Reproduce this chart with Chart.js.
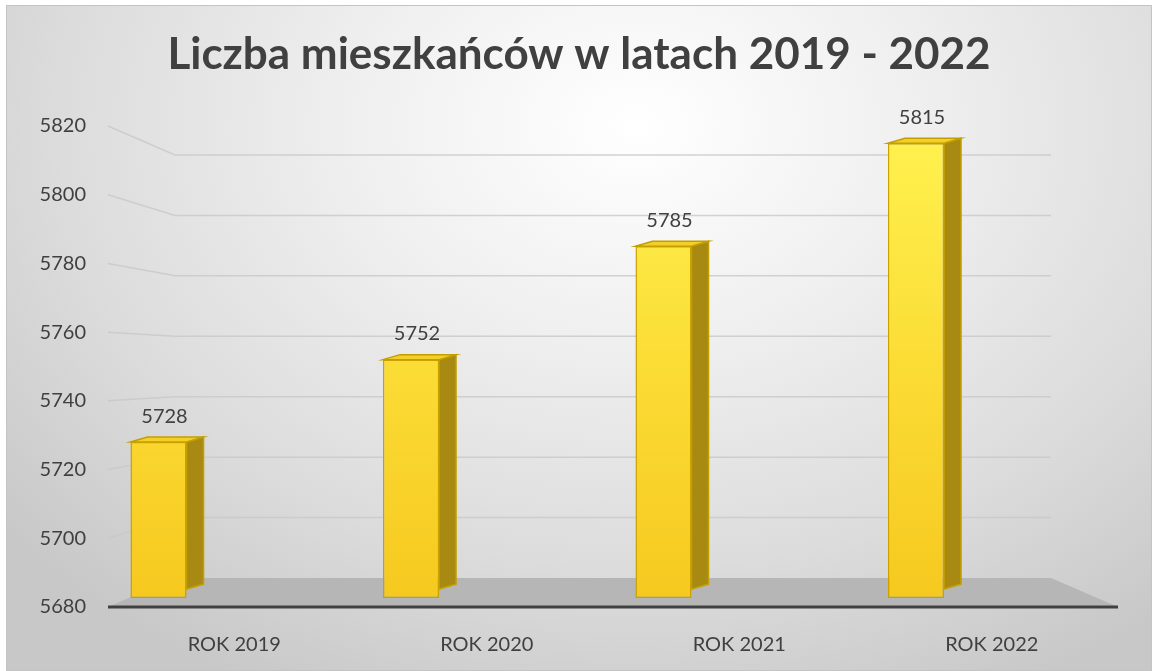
<!DOCTYPE html>
<html>
<head>
<meta charset="utf-8">
<script src="https://cdn.jsdelivr.net/npm/chart.js@4.4.1/dist/chart.umd.min.js"></script>
<style>
  html, body { margin: 0; padding: 0; background: #fff; }
  #box {
    position: absolute; left: 6px; top: 5px;
    width: 1146px; height: 666px; box-sizing: border-box;
    border: 1px solid #c4c4c4;
    background: radial-gradient(ellipse 72% 95% at 55% 18%, #ffffff 0%, #efefef 35%, #dcdcdc 70%, #c8c8c8 100%);
  }
  #myChart { display: block; }
</style>
</head>
<body>
<div id="box"><canvas id="myChart" width="1144" height="664"></canvas></div>
<script>
const years = ['ROK 2019', 'ROK 2020', 'ROK 2021', 'ROK 2022']
const residents = [5728, 5752, 5785, 5815]
const yMin = 5680
const yMax = 5820
const yStep = 20

const chart = document.getElementById("myChart")

// floor, slanted grid lines (3d look) and axis line
const backdrop = {
  id: 'backdrop',
  beforeDatasetsDraw(c) {
    const ctx = c.ctx, a = c.chartArea, y = c.scales.y
    const depthX = 67, depthY = 29
    const k = (a.bottom - a.top - 2 * depthY) / (a.bottom - a.top)
    ctx.save()
    // floor
    ctx.fillStyle = '#b6b6b6'
    ctx.beginPath()
    ctx.moveTo(a.left, a.bottom)
    ctx.lineTo(a.right, a.bottom)
    ctx.lineTo(a.right - depthX, a.bottom - depthY)
    ctx.lineTo(a.left + depthX, a.bottom - depthY)
    ctx.closePath()
    ctx.fill()
    // grid lines
    ctx.strokeStyle = 'rgba(200,200,200,0.8)'
    ctx.lineWidth = 1.5
    y.ticks.forEach(t => {
      if (t.value === yMin) return
      const fy = y.getPixelForValue(t.value)
      const by = a.bottom - depthY + (fy - a.bottom) * k
      ctx.beginPath()
      ctx.moveTo(a.left, fy)
      ctx.lineTo(a.left + depthX, by)
      ctx.lineTo(a.right - depthX, by)
      ctx.stroke()
    })
    ctx.restore()
  },
  afterDatasetsDraw(c) {
    const ctx = c.ctx, a = c.chartArea
    ctx.save()
    ctx.strokeStyle = '#404040'
    ctx.lineWidth = 3
    ctx.beginPath()
    ctx.moveTo(a.left, a.bottom)
    ctx.lineTo(a.right, a.bottom)
    ctx.stroke()
    // value labels
    ctx.fillStyle = '#404040'
    ctx.font = '20px Lato'
    ctx.textAlign = 'center'
    ctx.textBaseline = 'bottom'
    c.getDatasetMeta(0).data.forEach((bar, i) => {
      ctx.fillText(residents[i], bar.x + 6, bar.y - 16)
    })
    ctx.restore()
  }
}

// side and top faces of the bars
const barSides = {
  id: 'barSides',
  beforeDatasetDraw(c, args) {
    if (args.index !== 0) return
    const ctx = c.ctx, d = 17, dy = 5
    ctx.save()
    args.meta.data.forEach(bar => {
      const r = bar.x + bar.width / 2, l = bar.x - bar.width / 2
      const base = bar.base - 9
      ctx.fillStyle = '#a88a12'
      ctx.strokeStyle = '#c29f00'
      ctx.lineWidth = 1.5
      ctx.beginPath()
      ctx.moveTo(r, bar.y)
      ctx.lineTo(r + d, bar.y - dy)
      ctx.lineTo(r + d, base - dy)
      ctx.lineTo(r, base)
      ctx.closePath()
      ctx.fill(); ctx.stroke()
      ctx.fillStyle = '#f4cf2a'
      ctx.beginPath()
      ctx.moveTo(l, bar.y)
      ctx.lineTo(l + d, bar.y - dy)
      ctx.lineTo(r + d, bar.y - dy)
      ctx.lineTo(r, bar.y)
      ctx.closePath()
      ctx.fill(); ctx.stroke()
    })
    ctx.restore()
  }
}

const myData = {
  labels: years,
  datasets: [{
    label: 'Liczba mieszkańców',
    data: residents,
    base: yMin + 2.6,
    backgroundColor: (cx) => {
      const a = cx.chart.chartArea
      if (!a) return '#f9cf25'
      const g = cx.chart.ctx.createLinearGradient(0, a.top, 0, a.bottom)
      g.addColorStop(0, '#fff250')
      g.addColorStop(0.5, '#fbdc35')
      g.addColorStop(1, '#f6c81e')
      return g
    },
    borderColor: '#c9a200',
    borderWidth: 1.5,
    borderSkipped: false,
    barPercentage: 0.37,
    categoryPercentage: 1.2
  }, {
    label: '',
    data: [null, null, null, null],
    barPercentage: 0.37,
    categoryPercentage: 1.2
  }]
}

const myConfig = {
  type: 'bar',
  data: myData,
  plugins: [backdrop, barSides],
  options: {
    responsive: false,
    animation: false,
    layout: { padding: 0 },
    scales: {
      y: {
        min: yMin, max: yMax,
        ticks: { stepSize: yStep, color: '#404040', font: { family: 'Lato', size: 20 }, padding: 14,
          callback: v => String(v) },
        grid: { display: false },
        border: { display: false },
        afterFit: s => { s.width = 101 }
      },
      // empty spacer on the right so the title stays centred on the whole canvas
      yRight: {
        position: 'right',
        ticks: { display: false },
        grid: { display: false },
        border: { display: false },
        afterFit: s => { s.width = 33 }
      },
      x: {
        ticks: { color: '#404040', font: { family: 'Lato', size: 20 }, padding: 18 },
        grid: { display: false },
        border: { display: false },
        afterFit: s => { s.height = 63 }
      }
    },
    plugins: {
      legend: { display: false },
      tooltip: { enabled: false },
      title: {
        display: true,
        text: 'Liczba mieszkańców w latach 2019 - 2022',
        color: '#404040',
        font: { family: 'Lato', size: 44, weight: 'bold' },
        padding: { top: 22, bottom: 45.2 }
      }
    }
  }
}

new Chart(chart, myConfig)
</script>
</body>
</html>
